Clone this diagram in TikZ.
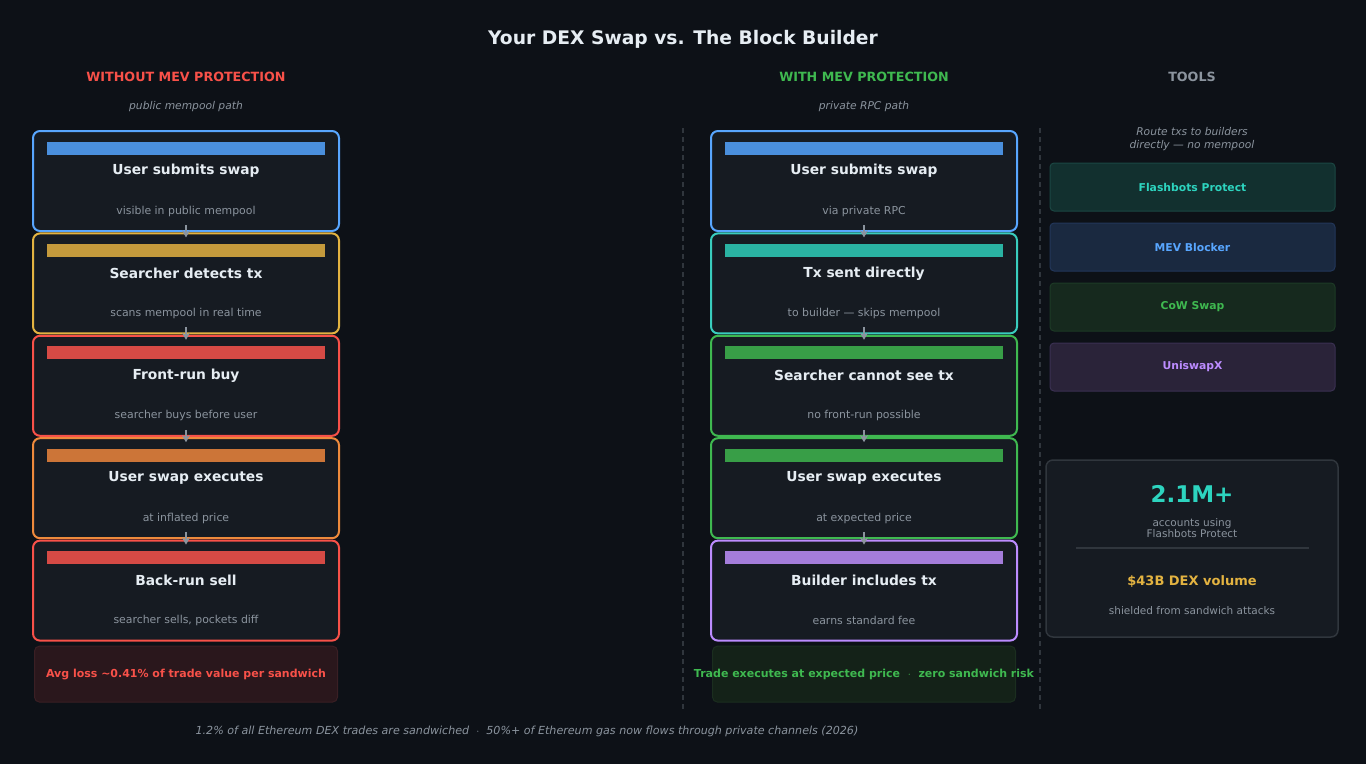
\documentclass[tikz,border=0pt]{standalone}
\usepackage{fontspec}
\setmainfont{DejaVu Sans}
\usepackage{tikz}
\usetikzlibrary{arrows.meta, positioning}

\definecolor{bgdark}{HTML}{0D1117}
\definecolor{cardfill}{HTML}{161B22}
\definecolor{mutedgrey}{HTML}{8B949E}
\definecolor{textwhite}{HTML}{E6EDF3}
\definecolor{lineGrey}{HTML}{30363D}
\definecolor{edgeblue}{HTML}{58A6FF}
\definecolor{barblue}{HTML}{4A8FDD}
\definecolor{edgeyellow}{HTML}{E3B341}
\definecolor{baryellow}{HTML}{C49A3C}
\definecolor{edgered}{HTML}{F85149}
\definecolor{barred}{HTML}{D64A45}
\definecolor{edgeorange}{HTML}{EE8A3C}
\definecolor{barorange}{HTML}{CC7538}
\definecolor{edgeteal}{HTML}{39CDBE}
\definecolor{barteal}{HTML}{2AB3A3}
\definecolor{edgegreen}{HTML}{3FB950}
\definecolor{bargreen}{HTML}{389E47}
\definecolor{edgepurple}{HTML}{BC8CFF}
\definecolor{barpurple}{HTML}{A47DDB}
\definecolor{tealtext}{HTML}{2DD4BF}
\definecolor{lossfill}{HTML}{2A171C}
\definecolor{lossedge}{HTML}{3A1F24}
\definecolor{safefill}{HTML}{142218}
\definecolor{safeedge}{HTML}{1B2E1F}
\definecolor{flashfill}{HTML}{12302F}
\definecolor{flashedge}{HTML}{1B4743}
\definecolor{mevfill}{HTML}{1A2940}
\definecolor{mevedge}{HTML}{22365A}
\definecolor{cowfill}{HTML}{16291E}
\definecolor{cowedge}{HTML}{1D3A26}
\definecolor{unifill}{HTML}{2A2339}
\definecolor{uniedge}{HTML}{3A3052}

\begin{document}
\begin{tikzpicture}[x=1pt, y=-1pt, node distance=0.4pt]
% Styles
\tikzstyle{card} = [rectangle, rounded corners=7pt, minimum width=306pt, minimum height=100pt, draw, line width=2pt, fill=cardfill, inner sep=0pt]
\tikzstyle{bar} = [rectangle, minimum width=278pt, minimum height=13pt, inner sep=0pt]
\tikzstyle{cardtitle} = [text=textwhite, font=\bfseries\fontsize{13.8}{16}\selectfont]
\tikzstyle{cardsub} = [text=mutedgrey, font=\fontsize{10.9}{13}\selectfont]
\tikzstyle{header} = [font=\bfseries\fontsize{12.7}{15}\selectfont]
\tikzstyle{hint} = [text=mutedgrey, font=\itshape\fontsize{10.7}{13}\selectfont, align=center]
\tikzstyle{tool} = [rectangle, rounded corners=4pt, minimum width=285pt, minimum height=48pt, draw, line width=1pt, font=\bfseries\fontsize{10.8}{13}\selectfont]
\tikzstyle{banner} = [rectangle, rounded corners=5pt, minimum width=303pt, minimum height=56pt, draw, line width=1pt]
\tikzstyle{bannertext} = [font=\bfseries\fontsize{11}{13}\selectfont]
\tikzstyle{divider} = [lineGrey, line width=1.5pt, dash pattern=on 5pt off 4pt]
\tikzstyle{arrow} = [mutedgrey, line width=1.6pt, -{Stealth[length=7pt, width=8pt, inset=2pt]}]

\useasboundingbox (0,0) rectangle (1366,764);
\fill[bgdark] (0,0) rectangle (1366,764);

\node (title) [text=textwhite, font=\bfseries\fontsize{18.7}{22}\selectfont] at (683,39) {Your DEX Swap vs. The Block Builder};

% Column heads
\node (headL) [header, text=edgered] at (186,77) {WITHOUT MEV PROTECTION};
\node (headR) [header, text=edgegreen] at (864,77) {WITH MEV PROTECTION};
\node (headT) [header, text=mutedgrey] at (1192,77) {TOOLS};
\node (hintL) [hint] at (186,107) {public mempool path};
\node (hintR) [hint] at (864,107) {private RPC path};
\node (hintT) [hint, font=\itshape\fontsize{10.7}{13}\selectfont] at (1192,139) {Route txs to builders\\directly --- no mempool};

% Dividers
\coordinate (divAtop) at (683,128);
\coordinate (divAbot) at (683,710);
\coordinate (divBtop) at (1040,128);
\coordinate (divBbot) at (1040,710);
\draw [divider] (divAtop) -- (divAbot);
\draw [divider] (divBtop) -- (divBbot);

% Public path
\node (l1) [card, draw=edgeblue] at (186,181) {};
\node (l2) [card, draw=edgeyellow, below=of l1] {};
\node (l3) [card, draw=edgered, below=of l2] {};
\node (l4) [card, draw=edgeorange, below=of l3] {};
\node (l5) [card, draw=edgered, below=of l4] {};

\node (l1bar) [bar, fill=barblue] at ([yshift=-18pt]l1.north) {};
\node (l1t) [cardtitle] at ([yshift=-41pt]l1.north) {User submits swap};
\node (l1s) [cardsub] at ([yshift=-81pt]l1.north) {visible in public mempool};
\node (l2bar) [bar, fill=baryellow] at ([yshift=-18pt]l2.north) {};
\node (l2t) [cardtitle] at ([yshift=-41pt]l2.north) {Searcher detects tx};
\node (l2s) [cardsub] at ([yshift=-81pt]l2.north) {scans mempool in real time};
\node (l3bar) [bar, fill=barred] at ([yshift=-18pt]l3.north) {};
\node (l3t) [cardtitle] at ([yshift=-41pt]l3.north) {Front-run buy};
\node (l3s) [cardsub] at ([yshift=-81pt]l3.north) {searcher buys before user};
\node (l4bar) [bar, fill=barorange] at ([yshift=-18pt]l4.north) {};
\node (l4t) [cardtitle] at ([yshift=-41pt]l4.north) {User swap executes};
\node (l4s) [cardsub] at ([yshift=-81pt]l4.north) {at inflated price};
\node (l5bar) [bar, fill=barred] at ([yshift=-18pt]l5.north) {};
\node (l5t) [cardtitle] at ([yshift=-41pt]l5.north) {Back-run sell};
\node (l5s) [cardsub] at ([yshift=-81pt]l5.north) {searcher sells, pockets diff};

\node (loss) [banner, fill=lossfill, draw=lossedge, below=4pt of l5] {};
\node (losstext) [bannertext, text=edgered] at (loss) {Avg loss \textasciitilde 0.41\% of trade value per sandwich};

% Private path
\node (r1) [card, draw=edgeblue] at (864,181) {};
\node (r2) [card, draw=edgeteal, below=of r1] {};
\node (r3) [card, draw=edgegreen, below=of r2] {};
\node (r4) [card, draw=edgegreen, below=of r3] {};
\node (r5) [card, draw=edgepurple, below=of r4] {};

\node (r1bar) [bar, fill=barblue] at ([yshift=-18pt]r1.north) {};
\node (r1t) [cardtitle] at ([yshift=-41pt]r1.north) {User submits swap};
\node (r1s) [cardsub] at ([yshift=-81pt]r1.north) {via private RPC};
\node (r2bar) [bar, fill=barteal] at ([yshift=-18pt]r2.north) {};
\node (r2t) [cardtitle] at ([yshift=-41pt]r2.north) {Tx sent directly};
\node (r2s) [cardsub] at ([yshift=-81pt]r2.north) {to builder --- skips mempool};
\node (r3bar) [bar, fill=bargreen] at ([yshift=-18pt]r3.north) {};
\node (r3t) [cardtitle] at ([yshift=-41pt]r3.north) {Searcher cannot see tx};
\node (r3s) [cardsub] at ([yshift=-81pt]r3.north) {no front-run possible};
\node (r4bar) [bar, fill=bargreen] at ([yshift=-18pt]r4.north) {};
\node (r4t) [cardtitle] at ([yshift=-41pt]r4.north) {User swap executes};
\node (r4s) [cardsub] at ([yshift=-81pt]r4.north) {at expected price};
\node (r5bar) [bar, fill=barpurple] at ([yshift=-18pt]r5.north) {};
\node (r5t) [cardtitle] at ([yshift=-41pt]r5.north) {Builder includes tx};
\node (r5s) [cardsub] at ([yshift=-81pt]r5.north) {earns standard fee};

\node (safe) [banner, fill=safefill, draw=safeedge, below=4pt of r5] {};
\node (safetext) [bannertext, text=edgegreen] at (safe) {Trade executes at expected price \ $\cdot$ \ zero sandwich risk};

\draw [arrow] ([yshift=7pt]l1.south) -- ([yshift=-5pt]l2.north);
\draw [arrow] ([yshift=7pt]l2.south) -- ([yshift=-5pt]l3.north);
\draw [arrow] ([yshift=7pt]l3.south) -- ([yshift=-5pt]l4.north);
\draw [arrow] ([yshift=7pt]l4.south) -- ([yshift=-5pt]l5.north);
\draw [arrow] ([yshift=7pt]r1.south) -- ([yshift=-5pt]r2.north);
\draw [arrow] ([yshift=7pt]r2.south) -- ([yshift=-5pt]r3.north);
\draw [arrow] ([yshift=7pt]r3.south) -- ([yshift=-5pt]r4.north);
\draw [arrow] ([yshift=7pt]r4.south) -- ([yshift=-5pt]r5.north);

% Tools
\node (flash) [tool, fill=flashfill, draw=flashedge, text=tealtext] at (1192.5,187) {Flashbots Protect};
\node (mevb) [tool, fill=mevfill, draw=mevedge, text=edgeblue, below=11pt of flash] {MEV Blocker};
\node (cow) [tool, fill=cowfill, draw=cowedge, text=edgegreen, below=11pt of mevb] {CoW Swap};
\node (unix) [tool, fill=unifill, draw=uniedge, text=edgepurple, below=11pt of cow] {UniswapX};

% Stats
\node (stats) [rectangle, rounded corners=7pt, minimum width=292pt, minimum height=177pt, draw=lineGrey, line width=1.5pt, fill=cardfill] at (1192,548.5) {};
\node (users) [text=tealtext, font=\bfseries\fontsize{23}{26}\selectfont] at (1192,494) {2.1M+};
\node (usersub) [cardsub, align=center, font=\fontsize{10.5}{11.5}\selectfont] at (1192,528) {accounts using\\Flashbots Protect};
\coordinate (ruleL) at (1076,548);
\coordinate (ruleR) at (1309,548);
\draw [lineGrey, line width=1.2pt] (ruleL) -- (ruleR);
\node (volume) [text=edgeyellow, font=\bfseries\fontsize{13}{15}\selectfont] at (1192,582) {\$43B DEX volume};
\node (volsub) [cardsub, font=\fontsize{10.5}{12}\selectfont] at (1192,611) {shielded from sandwich attacks};

\node (footer) [hint, font=\itshape\fontsize{11.1}{13}\selectfont] at (527,731) {1.2\% of all Ethereum DEX trades are sandwiched \ $\cdot$ \ 50\%+ of Ethereum gas now flows through private channels (2026)};

\end{tikzpicture}
\end{document}
